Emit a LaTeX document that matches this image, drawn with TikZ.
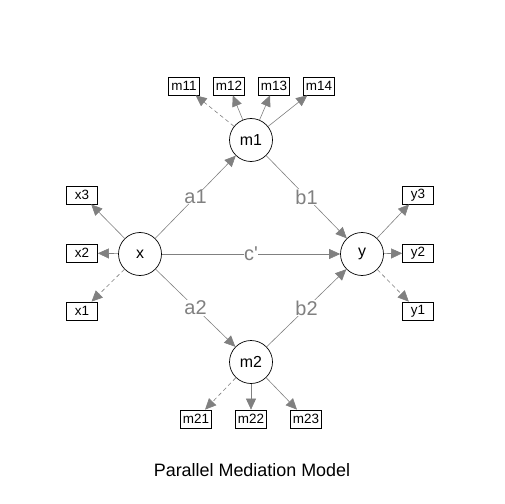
\documentclass[tikz,border=0pt]{standalone}
\usepackage{fontspec}
\setmainfont{Liberation Sans}[Ligatures=TeXOff]
\usetikzlibrary{arrows.meta}

\begin{document}
\begin{tikzpicture}[x=1bp,y=-1bp,line width=0.8bp,
  lat/.style={circle,draw=black,line width=0.7bp,minimum size=43bp,inner sep=0pt,font=\fontsize{16}{16}\selectfont},
  obs/.style={rectangle,draw=black,line width=0.7bp,minimum width=31bp,minimum height=18bp,inner xsep=2.5bp,inner ysep=0pt,font=\fontsize{13.5}{13.5}\selectfont},
  path/.style={draw=gray,line width=0.6bp,-{Triangle[length=11bp,width=10bp]},color=gray},
  resid/.style={path,dash pattern=on 4bp off 3bp},
  coef/.style={fill=white,inner sep=0.5pt,text=gray,font=\fontsize{20}{20}\selectfont}]
\useasboundingbox (0,0) rectangle (504,504);
% ================= latent variables =================
\node[lat] (x)  at (140,254) {x};
\node[lat] (y)  at (362,254) {y};
\node[lat] (m1) at (251,140) {m1};
\node[lat] (m2) at (251,362) {m2};
% ================= indicators =================
\node[obs] (m11) at (184,86) {m11};
\node[obs] (m12) at (229,86) {m12};
\node[obs] (m13) at (274,86) {m13};
\node[obs] (m14) at (319,86) {m14};
\node[obs] (x3) at (82,195) {x3};
\node[obs] (x2) at (82,253) {x2};
\node[obs] (x1) at (82,311) {x1};
\node[obs] (y3) at (418,195) {y3};
\node[obs] (y2) at (418,253) {y2};
\node[obs] (y1) at (418,311) {y1};
\node[obs] (m21) at (196,419) {m21};
\node[obs] (m22) at (251,419) {m22};
\node[obs] (m23) at (306,419) {m23};
% loadings (first of each is dashed)
\draw[resid] (m1) -- (m11);
\foreach \k in {12,13,14} \draw[path] (m1) -- (m\k);
\draw[resid] (x) -- (x1);
\foreach \k in {2,3} \draw[path] (x) -- (x\k);
\draw[resid] (y) -- (y1);
\foreach \k in {2,3} \draw[path] (y) -- (y\k);
\draw[resid] (m2) -- (m21);
\foreach \k in {22,23} \draw[path] (m2) -- (m\k);
% ================= structural paths =================
\draw[path] (x) -- node[coef] {a1} (m1);
\draw[path] (m1) -- node[coef] {b1} (y);
\draw[path] (x) -- node[coef] {c'} (y);
\draw[path] (x) -- node[coef] {a2} (m2);
\draw[path] (m2) -- node[coef] {b2} (y);
% title
\node[font=\fontsize{18}{18}\selectfont] (title) at (252,470) {Parallel Mediation Model};
\end{tikzpicture}
\end{document}
